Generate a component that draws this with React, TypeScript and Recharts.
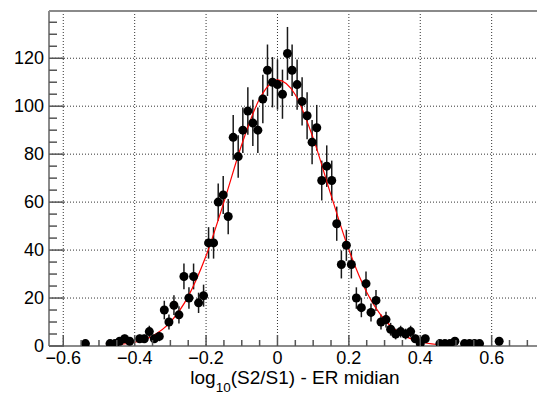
import React from "react";
import {
  ComposedChart,
  XAxis,
  YAxis,
  Scatter,
  Line,
  ErrorBar,
  CartesianGrid,
  ReferenceLine,
} from "recharts";

// Histogram bin centres of log10(S2/S1) - ER median and their counts
const binCenters = [
  -0.538, -0.469, -0.455, -0.442, -0.428, -0.414, -0.386, -0.373, -0.359, -0.345,
  -0.331, -0.317, -0.304, -0.29, -0.276, -0.262, -0.248, -0.235, -0.221, -0.207,
  -0.193, -0.179, -0.166, -0.152, -0.138, -0.124, -0.11, -0.097, -0.083, -0.069,
  -0.055, -0.041, -0.028, -0.014, 0.0, 0.014, 0.028, 0.041, 0.055, 0.069,
  0.083, 0.097, 0.11, 0.124, 0.138, 0.152, 0.166, 0.179, 0.193, 0.207,
  0.221, 0.235, 0.248, 0.262, 0.276, 0.29, 0.304, 0.317, 0.331, 0.345,
  0.359, 0.373, 0.386, 0.4, 0.414, 0.455, 0.469, 0.483, 0.497, 0.524,
  0.538, 0.552, 0.566, 0.621,
];
const counts = [
  1, 1, 1, 2, 3, 2, 3, 3, 6, 3,
  4, 15, 10, 17, 13, 29, 20, 29, 18, 21,
  43, 43, 60, 63, 54, 87, 79, 90, 98, 93,
  90, 103, 115, 110, 109, 105, 122, 115, 109, 102,
  96, 85, 91, 69, 75, 69, 51, 34, 42, 34,
  20, 16, 26, 14, 19, 10, 11, 7, 5, 6,
  5, 6, 3, 1, 3, 1, 1, 1, 2, 1,
  1, 1, 1, 2,
];

// Gaussian fit curve, sampled along x
const fitX = [
  -0.5, -0.45, -0.4, -0.35, -0.3, -0.25, -0.2, -0.15, -0.1, -0.05, 0,
  0.05, 0.1, 0.15, 0.2, 0.25, 0.3, 0.35, 0.4, 0.45, 0.5,
];
const fitY = [
  0.14, 0.51, 1.56, 4.21, 9.97, 20.7, 37.6, 60.0, 84.0, 103.1, 111.0,
  104.8, 86.7, 62.9, 40.1, 22.4, 10.95, 4.7, 1.77, 0.58, 0.17,
];

// Axis ticks
const xMajorTicks = [-0.6, -0.4, -0.2, 0, 0.2, 0.4, 0.6];
const xTickLabels = ["\u22120.6", "\u22120.4", "\u22120.2", "0", "0.2", "0.4", "0.6"];
const xAllTicks = [
  -0.6, -0.55, -0.5, -0.45, -0.4, -0.35, -0.3, -0.25, -0.2, -0.15, -0.1, -0.05,
  0, 0.05, 0.1, 0.15, 0.2, 0.25, 0.3, 0.35, 0.4, 0.45, 0.5, 0.55, 0.6, 0.65, 0.7,
];
const yMajorTicks = [0, 20, 40, 60, 80, 100, 120];
const yTickLabels = ["0", "20", "40", "60", "80", "100", "120"];
const yAllTicks = [
  0, 5, 10, 15, 20, 25, 30, 35, 40, 45, 50, 55, 60, 65, 70, 75, 80, 85, 90, 95,
  100, 105, 110, 115, 120, 125, 130, 135,
];
const xGrid = [-0.6, -0.4, -0.2, 0, 0.2, 0.4, 0.6];
const yGrid = [20, 40, 60, 80, 100, 120];

const X_DOMAIN: [number, number] = [-0.64, 0.727];
const Y_DOMAIN: [number, number] = [0, 139.7];

const FONT = "'Liberation Sans', Arial, Helvetica, sans-serif";
const AXIS_GREY = "#8a8a8a";
const TICK_COLOR = "#555";

const points = binCenters.map((x, i) => ({
  x,
  y: counts[i],
  err: Math.sqrt(counts[i]),
}));
const fitData = fitX.map((x, i) => ({ x, y: fitY[i] }));

const findMajor = (list: number[], v: number) =>
  list.findIndex((m) => Math.abs(m - v) < 1e-6);

function XTick(props: any) {
  const { x, y, payload } = props;
  const idx = findMajor(xMajorTicks, payload.value);
  const major = idx >= 0;
  return (
    <g>
      <line x1={x} y1={y} x2={x} y2={y - (major ? 11 : 6)} stroke={TICK_COLOR} strokeWidth={1.5} />
      {major && (
        <text x={x} y={y + 17.5} textAnchor="middle" fontSize={18} fontFamily={FONT} fill="#000">
          {xTickLabels[idx]}
        </text>
      )}
    </g>
  );
}

function YTick(props: any) {
  const { x, y, payload } = props;
  const idx = findMajor(yMajorTicks, payload.value);
  const major = idx >= 0;
  return (
    <g>
      <line x1={x} y1={y} x2={x + (major ? 15 : 8)} y2={y} stroke={TICK_COLOR} strokeWidth={1.5} />
      {major && (
        <text x={x - 5} y={y + 6} textAnchor="end" fontSize={18} fontFamily={FONT} fill="#000">
          {yTickLabels[idx]}
        </text>
      )}
    </g>
  );
}

function AxisTitle(props: any) {
  const vb = props.viewBox || { x: 49, y: 346, width: 488, height: 50 };
  const cx = vb.x + vb.width / 2 + 2;
  return (
    <text x={cx} y={384} textAnchor="middle" fontSize={19} fontFamily={FONT} fill="#000">
      <tspan>log</tspan>
      <tspan dy={8} fontSize={13.5}>10</tspan>
      <tspan dy={-8}>(S2/S1) - ER midian</tspan>
    </text>
  );
}

const Marker = (props: any) => (
  <circle cx={props.cx} cy={props.cy} r={4.5} fill="#000" />
);

export default function App() {
  return (
    <div style={{ position: "absolute", left: 0, top: 0, width: 538, height: 396, background: "#fff" }}>
      <ComposedChart width={538} height={396} margin={{ top: 11, right: 1, bottom: 0, left: 0 }}>
        <CartesianGrid
          horizontalValues={yGrid}
          verticalValues={xGrid}
          stroke="#333"
          strokeDasharray="1 2"
        />
        <XAxis
          dataKey="x"
          type="number"
          domain={X_DOMAIN}
          allowDataOverflow
          ticks={xAllTicks}
          interval={0}
          tick={<XTick />}
          tickLine={false}
          tickSize={0}
          tickMargin={0}
          height={50}
          axisLine={{ stroke: AXIS_GREY, strokeWidth: 2 }}
          label={<AxisTitle />}
        />
        <YAxis
          type="number"
          domain={Y_DOMAIN}
          allowDataOverflow
          ticks={yAllTicks}
          interval={0}
          tick={<YTick />}
          tickLine={false}
          tickSize={0}
          tickMargin={0}
          width={49}
          axisLine={{ stroke: AXIS_GREY, strokeWidth: 2 }}
        />
        <ReferenceLine y={Y_DOMAIN[1]} stroke={AXIS_GREY} strokeWidth={2} ifOverflow="visible" />
        <Scatter data={points} dataKey="y" shape={Marker} isAnimationActive={false}>
          <ErrorBar dataKey="err" direction="y" width={0} stroke="#1a1a1a" strokeWidth={1.5} />
        </Scatter>
        <Line
          data={fitData}
          dataKey="y"
          type="monotone"
          dot={false}
          activeDot={false}
          stroke="#ff0000"
          strokeWidth={1.2}
          isAnimationActive={false}
        />
      </ComposedChart>
    </div>
  );
}
